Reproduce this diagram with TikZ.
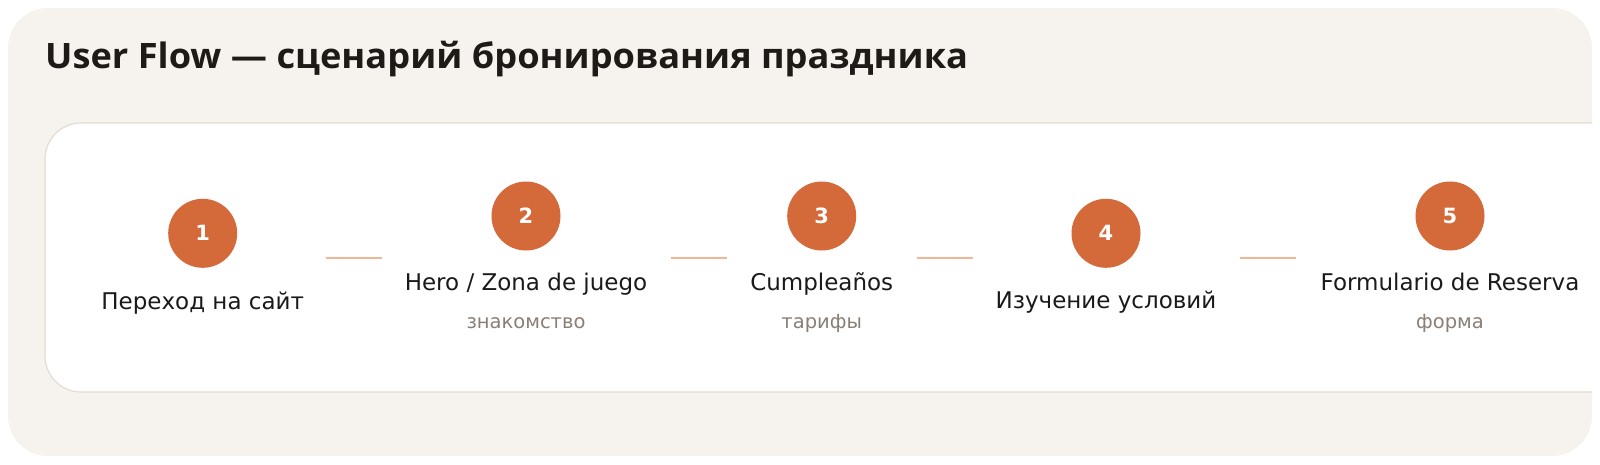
\documentclass[tikz,border=0pt]{standalone}
\usepackage{fontspec}
\setmainfont{DejaVu Sans}
\newfontfamily\titlefont[FakeStretch=1.035]{Open Sans}
\definecolor{outerbg}{HTML}{F6F3EE}
\definecolor{cardborder}{HTML}{E4DBD1}
\definecolor{stepc}{HTML}{D4693A}
\definecolor{linkc}{HTML}{F2B792}
\definecolor{titlec}{HTML}{1E1A17}
\definecolor{labelc}{HTML}{1A1A1A}
\definecolor{subc}{HTML}{8A7F77}
\tikzset{
  stepcircle/.style={circle, fill=stepc, minimum size=69pt, inner sep=0pt,
    text=white, font=\fontsize{21}{25}\selectfont\bfseries},
  steplabel/.style={anchor=base, inner sep=0pt, text=labelc,
    font=\fontsize{23}{27}\selectfont},
  stepsub/.style={anchor=base, inner sep=0pt, text=subc,
    font=\fontsize{19.5}{23}\selectfont},
  linkline/.style={draw=linkc, line width=2pt},
}
\begin{document}
\begin{tikzpicture}[x=1pt,y=-1pt]
\useasboundingbox (0,0) rectangle (1600,464);
\fill[outerbg, rounded corners=40pt] (8,8) rectangle (1592,456);
\node[anchor=base west, inner sep=0pt, text=titlec,
  font=\titlefont\fontsize{35}{40}\selectfont\bfseries] (title) at (45,68.3)
  {User Flow — сценарий бронирования праздника};
\begin{scope}
  \clip[rounded corners=40pt] (8,8) rectangle (1592,456);
  \filldraw[fill=white, draw=cardborder, line width=1.2pt, rounded corners=36pt]
    (45,123) rectangle (1660,392);
\end{scope}
% steps
\node[stepcircle] (s1) at (202.7,233.3) {1};
\node[steplabel] (l1) at (202.7,309) {Переход на сайт};

\node[stepcircle] (s2) at (526,216) {2};
\node[steplabel] (l2) at (526,290.7) {Hero / Zona de juego};
\node[stepsub] (u2) at (526,328.3) {знакомство};

\node[stepcircle] (s3) at (821.7,216) {3};
\node[steplabel] (l3) at (821.7,290.7) {Cumpleaños};
\node[stepsub] (u3) at (821.7,328.3) {тарифы};

\node[stepcircle] (s4) at (1106,233.3) {4};
\node[steplabel] (l4) at (1106,308.3) {Изучение условий};

\node[stepcircle] (s5) at (1450,216) {5};
\node[steplabel] (l5) at (1450,290.7) {Formulario de Reserva};
\node[stepsub] (u5) at (1450,328.3) {форма};
% connectors
\coordinate (a1) at (326,258.3); \coordinate (b1) at (382,258.3);
\coordinate (a2) at (670.7,258.3); \coordinate (b2) at (726.7,258.3);
\coordinate (a3) at (916.7,258.3); \coordinate (b3) at (972.7,258.3);
\coordinate (a4) at (1240,258.3); \coordinate (b4) at (1296,258.3);
\draw[linkline] (a1) -- (b1);
\draw[linkline] (a2) -- (b2);
\draw[linkline] (a3) -- (b3);
\draw[linkline] (a4) -- (b4);
\end{tikzpicture}
\end{document}
